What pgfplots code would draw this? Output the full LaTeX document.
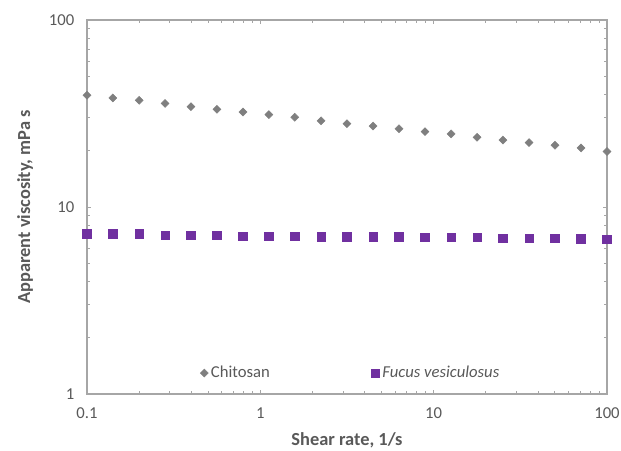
\documentclass[border=0pt]{standalone}
\usepackage{fontspec}
\setmainfont{Carlito}
\usepackage{pgfplots}
\pgfplotsset{compat=1.18}

\definecolor{txtgray}{HTML}{595959}
\definecolor{axgray}{HTML}{A6A6A6}
\definecolor{chitgray}{HTML}{7F7F7F}
\definecolor{fucpurple}{HTML}{7030A0}

\begin{document}
\begin{tikzpicture}[x=0.75pt,y=0.75pt]
  % page = 621 x 450 px, axis box from (87,20) to (607,394) in px
  \path[use as bounding box] (-87,-56) rectangle (534,394);
  \begin{axis}[
      at={(0,0)}, anchor=south west,
      scale only axis,
      width=390pt, height=280.5pt,
      xmode=log, ymode=log,
      xmin=0.1, xmax=100, ymin=1, ymax=100,
      log ticks with fixed point,
      /pgf/number format/assume math mode=true,
      xtick={0.1,1,10,100},
      ytick={1,10,100},
      xticklabels={0.1,1,10,100},
      yticklabels={1,10,100},
      tick align=inside,
      major tick length=3pt,
      minor tick length=2.2pt,
      axis line style={axgray, line width=0.9pt},
      every tick/.style={axgray, line width=0.6pt},
      tick label style={font=\fontsize{12.5}{13}\selectfont, text=txtgray},
      xticklabel style={yshift=-7pt},
      yticklabel style={xshift=-6pt},
      xlabel={\textbf{Shear rate, 1/s}},
      ylabel={\textbf{Apparent viscosity, mPa s}},
      label style={font=\fontsize{13.8}{15}\selectfont, text=txtgray},
      xlabel style={yshift=-3pt},
      ylabel style={yshift=5pt},
      clip=false,
      legend style={at={(0.508,0.056)}, anchor=center, draw=none, fill=none,
        font=\fontsize{12.5}{13}\selectfont, text=txtgray,
        /tikz/every even column/.append style={column sep=74pt}},
      legend columns=2,
      legend cell align=left,
    ]
    \addplot[only marks, mark=square*, mark size=2.1pt,
      mark options={rotate=45, fill=chitgray, draw=chitgray}]
      coordinates {
      (0.1,39.6) (0.141,38.3) (0.2,37.2) (0.282,35.8) (0.398,34.4)
      (0.562,33.3) (0.794,32.2) (1.12,31.2) (1.58,30.2) (2.24,28.9)
      (3.16,27.9) (4.47,27.1) (6.31,26.2) (8.91,25.3) (12.6,24.6)
      (17.8,23.6) (25.1,22.8) (35.5,22.1) (50.1,21.4) (70.8,20.7)
      (100,19.8)};
    \addlegendentry{Chitosan}
    \addplot[only marks, mark=square*, mark size=3.2pt,
      mark options={fill=fucpurple, draw=fucpurple}]
      coordinates {
      (0.1,7.17) (0.141,7.17) (0.2,7.17) (0.282,7.08) (0.398,7.08)
      (0.562,7.08) (0.794,6.98) (1.12,6.98) (1.58,6.98) (2.24,6.94)
      (3.16,6.94) (4.47,6.94) (6.31,6.94) (8.91,6.87) (12.6,6.87)
      (17.8,6.87) (25.1,6.82) (35.5,6.82) (50.1,6.82) (70.8,6.75)
      (100,6.72)};
    \addlegendentry{\textit{Fucus vesiculosus}}
  \end{axis}
\end{tikzpicture}
\end{document}
